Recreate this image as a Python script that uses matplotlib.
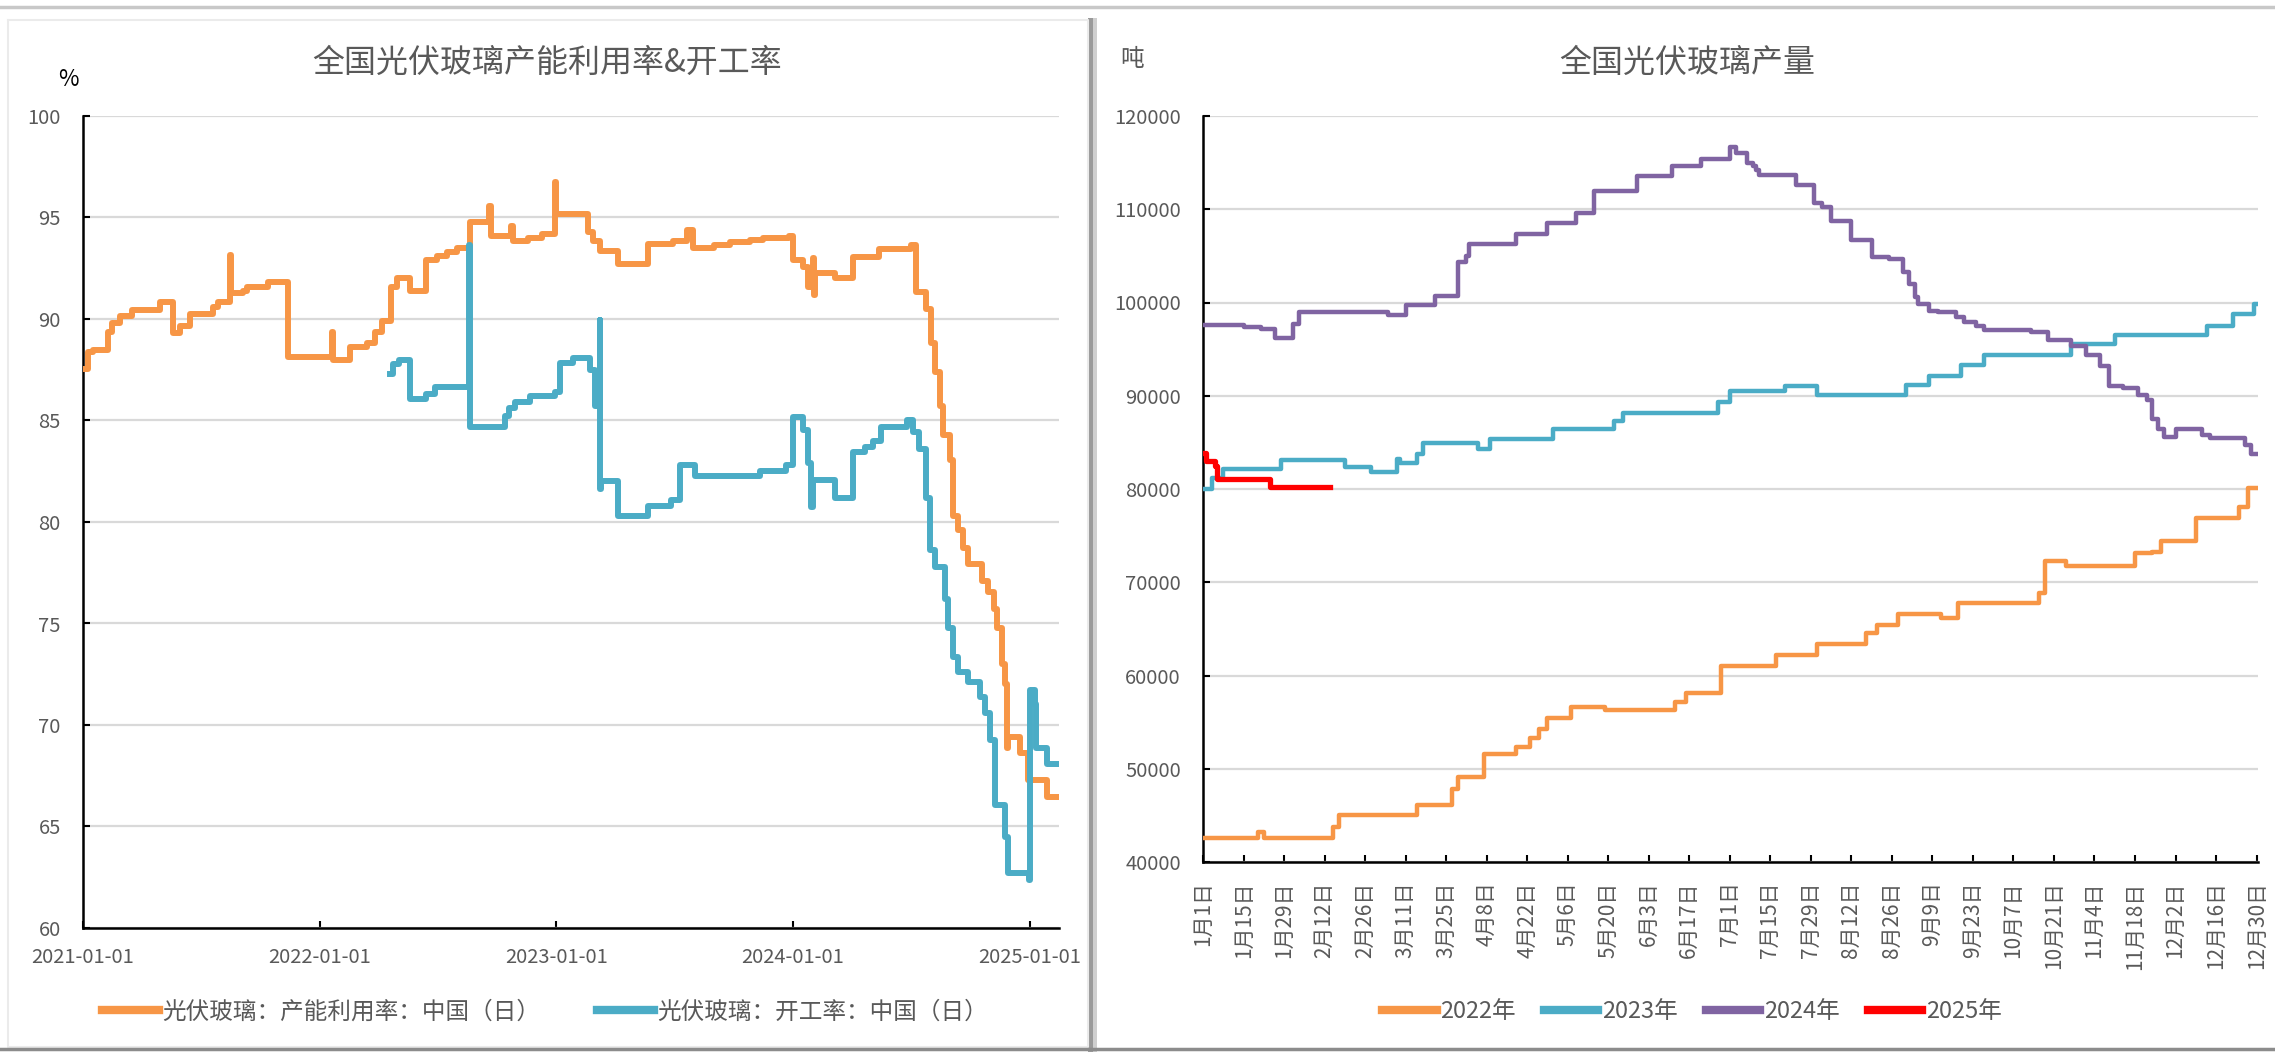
"""
光伏玻璃：产能利用率/开工率（日度）与分年度日产量，两幅并排。
"""

import numpy as np
import pandas as pd
import matplotlib
matplotlib.use("Agg")
import matplotlib.pyplot as plt
from matplotlib.lines import Line2D
import matplotlib.dates as mdates

plt.rcParams["font.family"] = ["Noto Sans CJK SC", "DejaVu Sans"]

# -- Config --
W, H = 2275, 1052
TEXT = "#595959"
GRID = "#D9D9D9"
ORANGE = "#F79646"
BLUE = "#4BACC6"
PURPLE = "#8064A2"
RED = "#FF0000"

# -- 左图数据：变化点（距 2021-01-01 的天数, 数值），阶梯显示 --
ORIGIN = pd.Timestamp("2021-01-01")
END_DAY = 1506

UTIL_DAY = [0, 7, 16, 39, 44, 57, 75, 119, 139, 150, 165, 201, 209, 227, 229,
            247, 253, 286, 317, 384, 386, 412, 438, 450, 461, 476, 484, 504,
            530, 546, 561, 577, 597, 627, 629, 661, 663, 687, 708, 728, 730,
            780, 787, 798, 826, 872, 911, 932, 942, 973, 998, 1029, 1050, 1090,
            1096, 1111, 1119, 1127, 1128, 1130, 1160, 1188, 1229, 1278, 1286,
            1301, 1309, 1314, 1322, 1327, 1338, 1343, 1350, 1358, 1366, 1387,
            1397, 1405, 1410, 1418, 1422, 1425, 1428, 1446, 1458, 1487]
UTIL_VAL = [87.56, 88.35, 88.46, 89.37, 89.78, 90.14, 90.43, 90.85, 89.32,
            89.65, 90.27, 90.6, 90.85, 93.14, 91.26, 91.4, 91.6, 91.83, 88.14,
            89.37, 87.97, 88.6, 88.8, 89.37, 89.9, 91.6, 92.0, 91.4, 92.9,
            93.1, 93.3, 93.5, 94.8, 95.56, 94.1, 94.6, 93.85, 94.0, 94.2,
            96.75, 95.15, 94.3, 93.85, 93.35, 92.7, 93.67, 93.85, 94.38, 93.5,
            93.64, 93.8, 93.9, 93.97, 94.08, 92.9, 92.57, 91.6, 93.0, 91.2,
            92.28, 92.0, 93.07, 93.47, 93.64, 91.35, 90.5, 88.8, 87.4, 85.7,
            84.3, 83.05, 80.3, 79.6, 78.7, 77.95, 77.1, 76.55, 75.7, 74.8,
            73.0, 72.0, 68.85, 69.4, 68.6, 67.3, 66.45]

OPER_DAY = [473, 478, 488, 504, 530, 543, 596, 597, 651, 657, 667, 689, 728,
            736, 756, 782, 790, 797, 798, 800, 826, 872, 908, 921, 944, 1044,
            1085, 1096, 1111, 1119, 1124, 1126, 1160, 1188, 1206, 1219, 1232,
            1271, 1281, 1290, 1301, 1307, 1314, 1330, 1335, 1343, 1350, 1366,
            1384, 1392, 1399, 1407, 1422, 1427, 1460, 1462, 1469, 1471, 1487]
OPER_VAL = [87.28, 87.8, 88.0, 86.08, 86.3, 86.63, 93.64, 84.7, 85.2, 85.6,
            85.9, 86.2, 86.4, 87.85, 88.1, 87.5, 85.7, 89.95, 81.65, 82.0,
            80.3, 80.8, 81.1, 82.8, 82.26, 82.5, 82.8, 85.15, 84.55, 82.9,
            80.75, 82.06, 81.2, 83.45, 83.7, 84.0, 84.7, 85.0, 84.45, 83.6,
            81.2, 78.6, 77.8, 76.2, 74.8, 73.35, 72.6, 72.1, 71.4, 70.6, 69.25,
            66.05, 64.5, 62.7, 62.35, 71.7, 71.05, 68.85, 68.1]

LEFT_TICKS = ["2021-01-01", "2022-01-01", "2023-01-01", "2024-01-01", "2025-01-01"]
LEFT_LABELS = ["光伏玻璃：产能利用率：中国（日）", "光伏玻璃：开工率：中国（日）"]

# -- 右图数据：年内第几天（0 = 1月1日）的变化点，单位 吨 --
Y2022_DAY = [0, 19, 21, 45, 47, 74, 86, 88, 97, 108, 113, 116, 119, 127, 139,
             163, 167, 179, 198, 212, 229, 233, 240, 255, 261, 289, 291, 298,
             322, 328, 331, 343, 358, 361, 364]
Y2022_VAL = [42550, 43200, 42550, 43730, 44990, 46140, 47860, 49120, 51560,
             52350, 53250, 54250, 55480, 56660, 56270, 57130, 58170, 61000,
             62190, 63380, 64530, 65370, 66560, 66180, 67790, 68830, 72280,
             71700, 73090, 73280, 74430, 76880, 78030, 80070, 80070]

Y2023_DAY = [0, 3, 7, 27, 49, 58, 67, 68, 74, 76, 95, 99, 121, 142, 145, 178,
             182, 201, 212, 243, 251, 262, 270, 300, 315, 347, 356, 363, 364]
Y2023_VAL = [80020, 81200, 82170, 83100, 82390, 81850, 83180, 82750, 83720,
             84900, 84250, 85330, 86480, 87240, 88100, 89280, 90540, 91000,
             90120, 91120, 92160, 93310, 94340, 95500, 96530, 97530, 98800,
             99830, 99830]

Y2024_DAY = [0, 14, 20, 25, 31, 33, 64, 70, 80, 88, 91, 92, 108, 119, 129, 135,
             150, 162, 172, 182, 184, 188, 190, 191, 192, 205, 211, 214, 217,
             224, 231, 237, 242, 244, 246, 247, 251, 254, 260, 263, 267, 270,
             286, 292, 300, 305, 310, 313, 318, 323, 326, 328, 330, 332, 336,
             345, 348, 360, 362, 364]
Y2024_VAL = [97540, 97360, 97110, 96210, 97720, 98980, 98690, 99690, 100660,
             104360, 105000, 106230, 107340, 108560, 109640, 111970, 113590,
             114600, 115390, 116710, 116000, 114930, 114600, 114220, 113650,
             112610, 110650, 110190, 108770, 106740, 104930, 104700, 103280,
             102000, 100600, 99830, 99140, 98950, 98490, 97910, 97450, 97070,
             96880, 96000, 95300, 94340, 93230, 91000, 90810, 90040, 89550,
             87550, 86400, 85630, 86400, 85750, 85440, 84670, 83790, 83790]

Y2025_DAY = [0, 1, 4, 5, 23, 44]
Y2025_VAL = [83900, 83000, 82460, 81100, 80230, 80230]

RIGHT_TICKS = ["1月1日", "1月15日", "1月29日", "2月12日", "2月26日", "3月11日",
               "3月25日", "4月8日", "4月22日", "5月6日", "5月20日", "6月3日",
               "6月17日", "7月1日", "7月15日", "7月29日", "8月12日", "8月26日",
               "9月9日", "9月23日", "10月7日", "10月21日", "11月4日", "11月18日",
               "12月2日", "12月16日", "12月30日"]


def px_axes(fig, x0, y0, x1, y1, **kw):
    """Axes placed by pixel box (top-left origin)."""
    return fig.add_axes([x0 / W, 1 - y1 / H, (x1 - x0) / W, (y1 - y0) / H], **kw)


def style_axes(ax, yfont):
    ax.set_axisbelow(True)
    ax.grid(axis="y", color=GRID, linewidth=1.6)
    ax.spines[["top", "right"]].set_visible(False)
    for s in ("left", "bottom"):
        ax.spines[s].set_color("black")
        ax.spines[s].set_linewidth(1.8)
    ax.tick_params(direction="in", length=5, width=1.5, colors="black",
                   labelcolor=TEXT)
    ax.tick_params(axis="y", labelsize=yfont, pad=16)


def draw_frames(fig):
    bg = fig.add_axes([0, 0, 1, 1], zorder=-5)
    bg.set_xlim(0, W)
    bg.set_ylim(H, 0)
    bg.axis("off")
    bg.plot([0, W], [7, 7], color="#C8C8C8", lw=2.5)
    bg.plot([8, 1088, 1088, 8, 8], [20, 20, 1047, 1047, 20], color="#EBEBEB", lw=1.5)
    bg.fill_between([1088, 1093], 18, H, color="#9A9A9A", lw=0)
    bg.fill_between([1093, 1097], 18, H, color="#CFCFCF", lw=0)
    bg.plot([0, W], [1049, 1049], color="#8C8C8C", lw=2.5)


def plot_left(fig):
    ax = px_axes(fig, 83, 116, 1059, 928)
    style_axes(ax, 14.5)

    util_x = ORIGIN + pd.to_timedelta(UTIL_DAY + [END_DAY], unit="D")
    oper_x = ORIGIN + pd.to_timedelta(OPER_DAY + [END_DAY], unit="D")
    ax.step(util_x, UTIL_VAL + [UTIL_VAL[-1]], where="post",
            color=ORANGE, lw=4.3, solid_joinstyle="round", zorder=3)
    ax.step(oper_x, OPER_VAL + [OPER_VAL[-1]], where="post",
            color=BLUE, lw=4.3, solid_joinstyle="round", zorder=3)

    ax.set_xlim(ORIGIN, ORIGIN + pd.Timedelta(days=END_DAY))
    ax.set_ylim(60, 100)
    ax.set_yticks(np.arange(60, 101, 5))
    ax.set_xticks(pd.to_datetime(LEFT_TICKS))
    ax.xaxis.set_major_formatter(mdates.DateFormatter("%Y-%m-%d"))
    ax.tick_params(axis="x", labelsize=14.5, pad=14)

    fig.text(547 / W, 1 - 63 / H, "全国光伏玻璃产能利用率&开工率", ha="center",
             va="center", fontsize=23, color=TEXT)
    fig.text(68 / W, 1 - 80 / H, "%", ha="center", va="center", fontsize=16,
             color="black")

    handles = [Line2D([], [], color=ORANGE, lw=6), Line2D([], [], color=BLUE, lw=6)]
    fig.legend(handles, LEFT_LABELS, loc="center",
               bbox_to_anchor=(545 / W, 1 - 1012 / H), ncol=2, frameon=False,
               fontsize=17, handlelength=2.4, handletextpad=0.15,
               columnspacing=2.4, labelcolor=TEXT)


def plot_right(fig):
    ax = px_axes(fig, 1203, 116, 2258, 862)
    style_axes(ax, 14.5)

    series = [
        (Y2022_DAY, Y2022_VAL, ORANGE, 3.2, "2022年"),
        (Y2023_DAY, Y2023_VAL, BLUE, 3.2, "2023年"),
        (Y2024_DAY, Y2024_VAL, PURPLE, 3.2, "2024年"),
        (Y2025_DAY, Y2025_VAL, RED, 3.8, "2025年"),
    ]
    for days, vals, color, lw, _ in series:
        ax.step(days, vals, where="post", color=color, lw=lw,
                solid_joinstyle="round", zorder=3)

    ax.set_xlim(0, 364.5)
    ax.set_ylim(40000, 120000)
    ax.set_yticks(np.arange(40000, 120001, 10000))
    ax.set_xticks(np.arange(len(RIGHT_TICKS)) * 14)
    ax.set_xticklabels(RIGHT_TICKS, rotation=90, va="top", ha="center")
    ax.tick_params(axis="x", labelsize=15, pad=14)

    fig.text(1687 / W, 1 - 63 / H, "全国光伏玻璃产量", ha="center", va="center",
             fontsize=23, color=TEXT)
    fig.text(1132 / W, 1 - 60 / H, "吨", ha="center", va="center", fontsize=17,
             color=TEXT)

    handles = [Line2D([], [], color=c, lw=6) for _, _, c, _, _ in series]
    fig.legend(handles, [s[4] for s in series], loc="center",
               bbox_to_anchor=(1692 / W, 1 - 1012 / H), ncol=4, frameon=False,
               fontsize=17, handlelength=2.3, handletextpad=0.15,
               columnspacing=1.2, labelcolor=TEXT)


def main():
    fig = plt.figure(figsize=(W / 100, H / 100), dpi=100)
    fig.patch.set_facecolor("white")
    draw_frames(fig)
    plot_left(fig)
    plot_right(fig)
    fig.savefig("out.png", dpi=100, facecolor="white")
    plt.close(fig)


if __name__ == "__main__":
    main()
